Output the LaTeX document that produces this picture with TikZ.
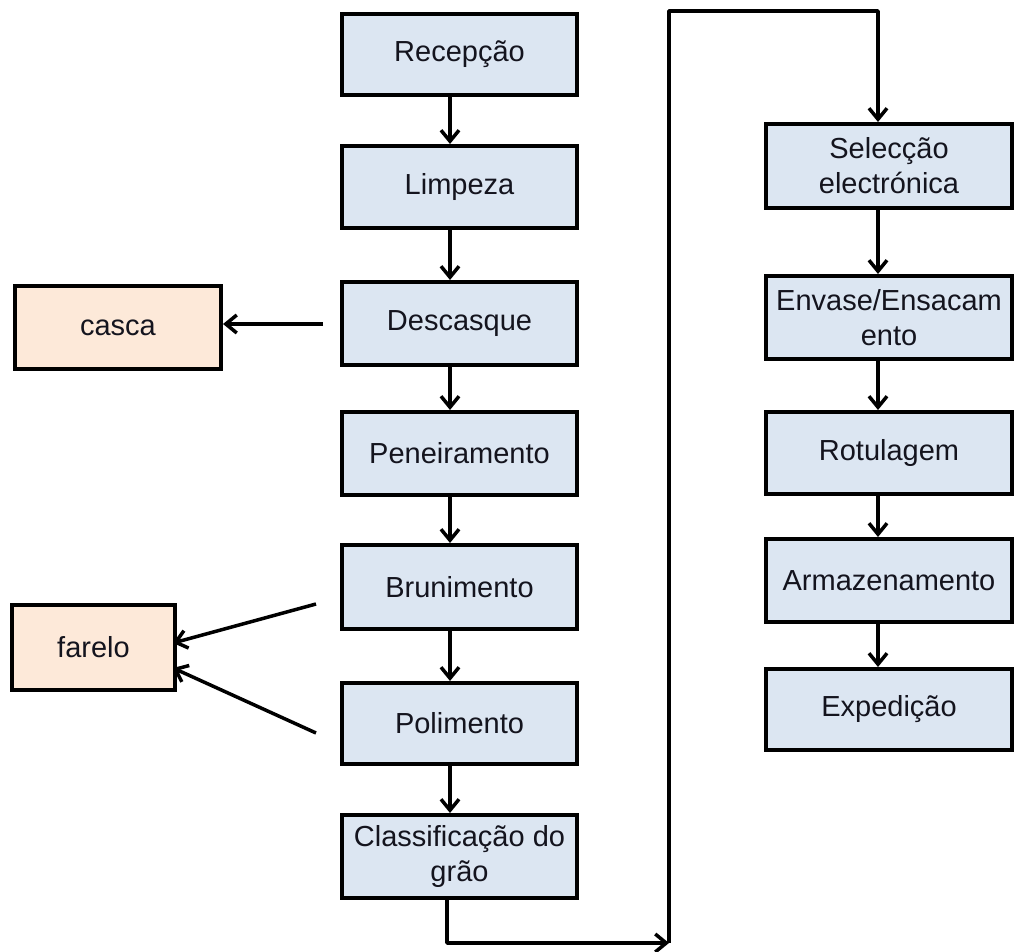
\documentclass[tikz,border=0pt]{standalone}
\usepackage{fontspec}
\setmainfont{Liberation Sans}
\usetikzlibrary{arrows.meta}
\definecolor{boxblue}{RGB}{220,230,242}
\definecolor{boxorange}{RGB}{253,233,217}
\definecolor{txt}{RGB}{20,20,30}
\begin{document}
\begin{tikzpicture}[x=1pt,y=-1pt,
  every node/.style={font=\fontsize{29}{35}\selectfont, text=txt},
  stepbox/.style={draw=black, line width=4pt, fill=boxblue, anchor=north west, align=center, inner sep=0pt},
  outbox/.style={draw=black, line width=4pt, fill=boxorange, anchor=north west, align=center, inner sep=0pt},
  arr/.style={draw=black, line width=3.5pt, -{Straight Barb[length=11pt,width=18pt,line width=3.5pt]}},
  ln/.style={draw=black, line width=3.5pt, line join=round}]
\useasboundingbox (0,0) rectangle (1014,952);
% left column
\node[stepbox, minimum width=235pt, minimum height=81pt] (rec) at (340,12) {Recepção};
\node[stepbox, minimum width=235pt, minimum height=82pt] (lim) at (340,144) {Limpeza};
\node[stepbox, minimum width=235pt, minimum height=83pt] (des) at (340,280) {Descasque};
\node[stepbox, minimum width=235pt, minimum height=83pt] (pen) at (340,410) {Peneiramento};
\node[stepbox, minimum width=235pt, minimum height=84pt] (bru) at (340,543) {Brunimento};
\node[stepbox, minimum width=235pt, minimum height=81pt] (pol) at (340,681) {Polimento};
\node[stepbox, minimum width=235pt, minimum height=83pt] (cla) at (340,813) {Classificação do\\grão};
% right column
\node[stepbox, minimum width=246pt, minimum height=84pt] (sel) at (764,122) {Selecção\\electrónica};
\node[stepbox, minimum width=246pt, minimum height=83pt] (env) at (764,274) {Envase/Ensacam\\ento};
\node[stepbox, minimum width=246pt, minimum height=82pt] (rot) at (764,410) {Rotulagem};
\node[stepbox, minimum width=246pt, minimum height=83pt] (arm) at (764,537) {Armazenamento};
\node[stepbox, minimum width=246pt, minimum height=81pt] (exp) at (764,667) {Expedição};
% by-products
\node[outbox, minimum width=206pt, minimum height=83pt] (casca) at (13,284) {casca};
\node[outbox, minimum width=163pt, minimum height=85pt] (farelo) at (10,603) {farelo};
% helper coordinates
\coordinate (ax) at (450,0);
\coordinate (bx) at (878,0);
\coordinate (cs) at (323,324);
\coordinate (f1) at (316,604);
\coordinate (f2) at (316,733);
\coordinate (fa) at (173,643);
\coordinate (fb) at (173,668);
\coordinate (b1) at (447,943);
\coordinate (b2) at (669,943);
\coordinate (t1) at (669,11);
\coordinate (t2) at (878,11);
% left column arrows
\draw[arr] (rec.south -| ax) -- (lim.north -| ax);
\draw[arr] (lim.south -| ax) -- (des.north -| ax);
\draw[arr] (des.south -| ax) -- (pen.north -| ax);
\draw[arr] (pen.south -| ax) -- (bru.north -| ax);
\draw[arr] (bru.south -| ax) -- (pol.north -| ax);
\draw[arr] (pol.south -| ax) -- (cla.north -| ax);
% right column arrows
\draw[arr] (sel.south -| bx) -- (env.north -| bx);
\draw[arr] (env.south -| bx) -- (rot.north -| bx);
\draw[arr] (rot.south -| bx) -- (arm.north -| bx);
\draw[arr] (arm.south -| bx) -- (exp.north -| bx);
% side outputs
\draw[arr] (cs) -- (cs -| casca.east);
\draw[arr] (f1) -- (fa);
\draw[arr] (f2) -- (fb);
% link between columns
\draw[arr, line join=round] (cla.south -| b1) -- (b1) -- (b2);
\draw[arr, line join=round] (b2) -- (t1) -- (t2) -- (sel.north -| t2);
\end{tikzpicture}
\end{document}
